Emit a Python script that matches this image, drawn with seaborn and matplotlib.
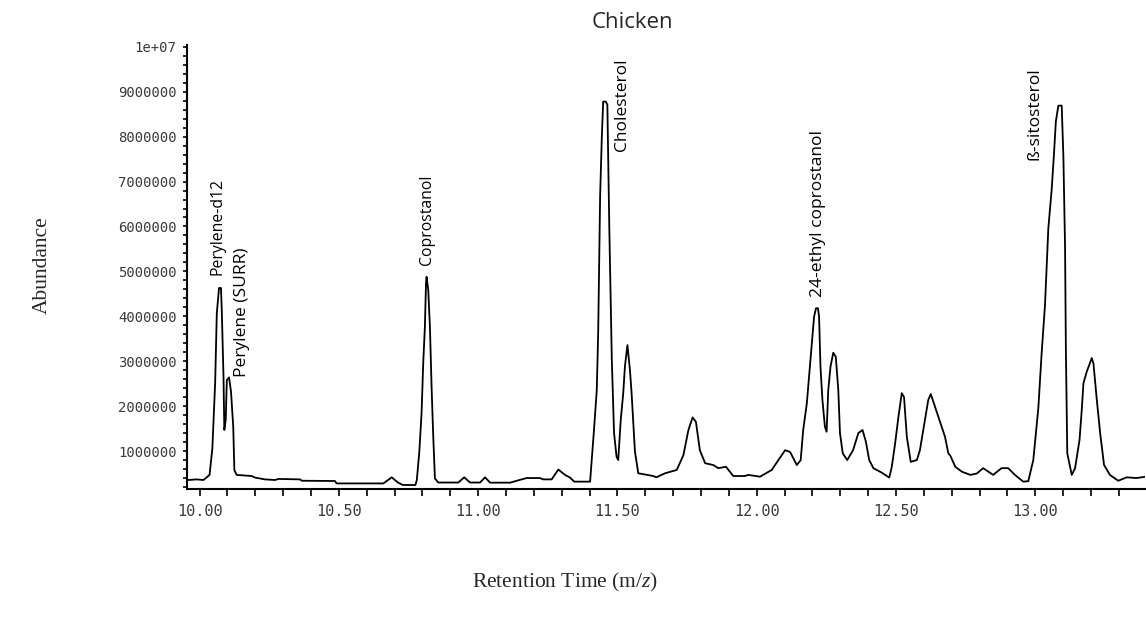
import matplotlib
matplotlib.use("Agg")
import matplotlib.pyplot as plt
from matplotlib.ticker import MultipleLocator, FixedLocator, FuncFormatter
import seaborn as sns
import pandas as pd

# Total ion chromatogram, chicken sample: retention time (min) and abundance
retention_time = [
    9.959, 9.990, 10.014, 10.026, 10.036, 10.046, 10.056, 10.062, 10.070, 10.077,
    10.080, 10.086, 10.089, 10.094, 10.098, 10.106, 10.113, 10.121, 10.125, 10.133,
    10.187, 10.199, 10.235, 10.271, 10.283, 10.361, 10.367, 10.486, 10.492, 10.660,
    10.690, 10.712, 10.730, 10.775, 10.780, 10.789, 10.797, 10.803, 10.809, 10.813,
    10.815, 10.821, 10.827, 10.833, 10.839, 10.845, 10.857, 10.929, 10.950, 10.971,
    11.007, 11.025, 11.043, 11.115, 11.139, 11.174, 11.222, 11.234, 11.264, 11.288,
    11.312, 11.330, 11.345, 11.402, 11.408, 11.416, 11.426, 11.431, 11.438, 11.444,
    11.449, 11.458, 11.464, 11.471, 11.480, 11.488, 11.497, 11.503, 11.512, 11.521,
    11.527, 11.536, 11.545, 11.551, 11.563, 11.575, 11.629, 11.640, 11.671, 11.713,
    11.737, 11.755, 11.770, 11.782, 11.796, 11.815, 11.844, 11.862, 11.890, 11.916,
    11.958, 11.970, 12.012, 12.054, 12.078, 12.102, 12.120, 12.144, 12.158, 12.167,
    12.180, 12.191, 12.200, 12.206, 12.213, 12.220, 12.224, 12.229, 12.236, 12.245,
    12.251, 12.257, 12.265, 12.275, 12.284, 12.293, 12.299, 12.309, 12.325, 12.346,
    12.365, 12.380, 12.392, 12.404, 12.419, 12.449, 12.476, 12.485, 12.497, 12.509,
    12.521, 12.529, 12.539, 12.553, 12.575, 12.586, 12.604, 12.616, 12.625, 12.640,
    12.664, 12.676, 12.688, 12.695, 12.713, 12.737, 12.767, 12.790, 12.813, 12.849,
    12.879, 12.903, 12.927, 12.957, 12.975, 12.993, 13.011, 13.023, 13.035, 13.047,
    13.059, 13.067, 13.074, 13.083, 13.095, 13.101, 13.107, 13.110, 13.115, 13.131,
    13.143, 13.159, 13.167, 13.173, 13.185, 13.203, 13.209, 13.221, 13.233, 13.247,
    13.268, 13.298, 13.328, 13.364, 13.397,
]
abundance = [
    356000, 370000, 356000, 416000, 470000, 1060000, 2510000, 4070000, 4630000, 4630000,
    4100000, 2660000, 1470000, 1690000, 2580000, 2640000, 2320000, 1540000, 580000, 470000,
    445000, 410000, 370000, 356000, 380000, 370000, 340000, 334000, 280000, 280000,
    416000, 300000, 245000, 245000, 356000, 990000, 1840000, 2960000, 3770000, 4740000,
    4880000, 4590000, 3770000, 2430000, 1320000, 390000, 300000, 300000, 416000, 300000,
    300000, 416000, 297000, 297000, 340000, 400000, 400000, 370000, 370000, 590000,
    470000, 410000, 320000, 320000, 800000, 1470000, 2360000, 3620000, 6670000, 7970000,
    8780000, 8780000, 8710000, 5960000, 3030000, 1400000, 875000, 800000, 1690000, 2290000,
    2880000, 3360000, 2810000, 2290000, 990000, 506000, 445000, 416000, 506000, 580000,
    910000, 1470000, 1750000, 1650000, 1020000, 730000, 690000, 620000, 650000, 445000,
    445000, 470000, 430000, 580000, 800000, 1020000, 980000, 690000, 800000, 1470000,
    2060000, 2880000, 3550000, 3990000, 4180000, 4180000, 3990000, 2880000, 2140000, 1540000,
    1430000, 2360000, 2880000, 3190000, 3100000, 2360000, 1400000, 950000, 800000, 1020000,
    1400000, 1470000, 1210000, 800000, 620000, 520000, 410000, 650000, 1170000, 1770000,
    2290000, 2200000, 1320000, 760000, 800000, 1020000, 1690000, 2140000, 2270000, 1990000,
    1540000, 1320000, 950000, 900000, 650000, 540000, 470000, 500000, 620000, 470000,
    620000, 620000, 470000, 320000, 330000, 800000, 1950000, 3180000, 4250000, 5960000,
    6820000, 7590000, 8340000, 8690000, 8690000, 7560000, 5550000, 3250000, 950000, 470000,
    620000, 1250000, 1920000, 2510000, 2770000, 3070000, 2950000, 2140000, 1400000, 690000,
    470000, 340000, 416000, 400000, 430000,
]

# Compound labels and where each one is written (retention time, abundance at text base)
compounds = ["Perylene-d12", "Perylene (SURR)", "Coprostanol", "Cholesterol",
             "24-ethyl coprostanol", "ß-sitosterol"]
label_time = [10.063, 10.151, 10.815, 11.518, 12.221, 12.999]
label_abundance = [4920000, 2660000, 5140000, 7670000, 4440000, 7480000]
label_size = [11.3, 12.5, 11.3, 12.5, 12.5, 12.6]

x_ticks = [10.0, 10.5, 11.0, 11.5, 12.0, 12.5, 13.0]
y_ticks = [1000000, 2000000, 3000000, 4000000, 5000000,
           6000000, 7000000, 8000000, 9000000, 10000000]

sns.set_style("ticks")
plt.rcParams["font.family"] = ["DejaVu Sans"]
plt.rcParams["mathtext.fontset"] = "custom"
plt.rcParams["mathtext.rm"] = "Liberation Serif"
plt.rcParams["mathtext.it"] = "Liberation Serif:italic"

W, H = 1146, 617
fig = plt.figure(figsize=(W / 100, H / 100), dpi=100)
ax = fig.add_axes([187 / W, 1 - 489 / H, (1145 - 187) / W, (489 - 45) / H])

df = pd.DataFrame({"Retention Time": retention_time, "Abundance": abundance})
sns.lineplot(data=df, x="Retention Time", y="Abundance", ax=ax,
             color="black", linewidth=1.3, estimator=None, sort=False)

ax.set_xlim(9.955, 13.394)
ax.set_ylim(156000, 10040000)

for side in ("top", "right"):
    ax.spines[side].set_visible(False)
for side in ("left", "bottom"):
    ax.spines[side].set_color("black")
    ax.spines[side].set_linewidth(1.5)

ax.xaxis.set_major_locator(FixedLocator(x_ticks))
ax.xaxis.set_minor_locator(MultipleLocator(0.1))
ax.xaxis.set_major_formatter(FuncFormatter(lambda v, p: f"{v:.2f}"))
ax.yaxis.set_major_locator(FixedLocator(y_ticks))
ax.yaxis.set_minor_locator(MultipleLocator(200000))
ax.yaxis.set_major_formatter(
    FuncFormatter(lambda v, p: "1e+07" if v >= 1e7 else f"{int(round(v))}"))

ax.tick_params(axis="x", which="both", direction="out", length=5, width=1.2,
               color="black", pad=6)
ax.tick_params(axis="y", which="both", direction="out", length=3, width=1.2,
               color="black", pad=4.5)
for lab in ax.get_yticklabels():
    lab.set_fontfamily("DejaVu Sans Mono")
    lab.set_fontsize(10)
    lab.set_color("#3a3a3a")
for lab in ax.get_xticklabels():
    lab.set_fontfamily("DejaVu Sans Mono")
    lab.set_fontsize(11)
    lab.set_color("#3a3a3a")

ax.set_xlabel("")
ax.set_ylabel("")

serif = ["Liberation Serif", "DejaVu Serif"]
fig.text(42 / W, 1 - 265 / H, "Abundance", rotation=90, ha="center", va="center",
         fontsize=15.5, family=serif)
fig.text(565 / W, 1 - 582 / H, r"Retention Time (m/$\it{z}$)", ha="center",
         va="center", fontsize=15.5, family=serif)

fig.text(632 / W, 1 - 22 / H, "Chicken", ha="center", va="center",
         fontsize=16, family=["Open Sans", "DejaVu Sans"])

for name, t, a, s in zip(compounds, label_time, label_abundance, label_size):
    ax.text(t, a, name, rotation=90, ha="center", va="bottom",
            fontsize=s, family=["Open Sans", "DejaVu Sans"], color="black")

fig.savefig("out.png", dpi=100)
